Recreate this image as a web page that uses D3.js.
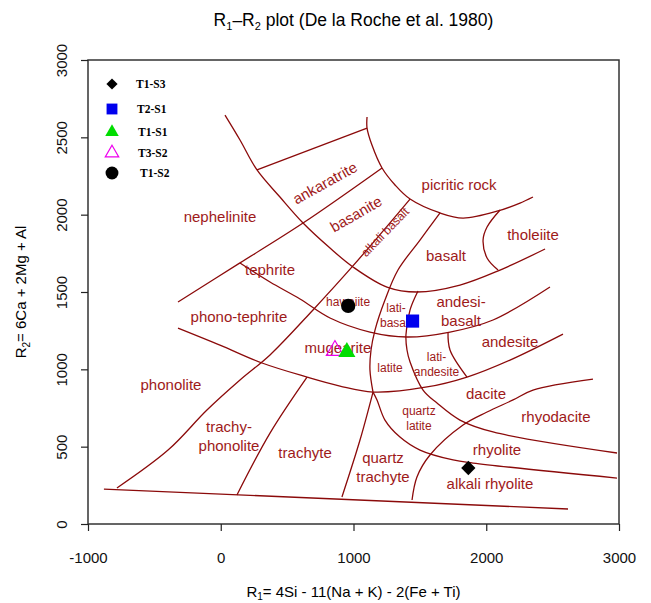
<!DOCTYPE html>
<html>
<head>
<meta charset="utf-8">
<script src="https://cdn.jsdelivr.net/npm/d3@7"></script>
<style>
  body { margin: 0; background: #fff; }
  svg { font-family: "Liberation Sans", Arial, sans-serif; }
  .bound { fill: none; stroke: #8b0a0a; stroke-width: 1.3; }
  .field { fill: #9e1a1a; text-anchor: middle; }
  .tick text { font-size: 15px; fill: #111; }
</style>
</head>
<body>
<div id="chart"></div>
<script>
const width = 651
const height = 603
const margin = { top: 60, right: 32, bottom: 79, left: 88 }

// x / y tick values
const xTicks = [-1000, 0, 1000, 2000, 3000]
const yTicks = [0, 500, 1000, 1500, 2000, 2500, 3000]

// field boundaries, [R1, R2]
const baseLine = [[-880, 226], [2616, 97]]
const phonoLine = [[-782, 233], [-397, 478], [-104, 737], [145, 931], [371, 1093], [695, 1384], [989, 1662], [1426, 2101]]
const trachyPhonoLine = [[122, 188], [371, 588], [650, 950]]
const trachyteLine = [[913, 175], [1049, 543], [1147, 853]]
const rhyodaciteLine = [[1441, 155], [1478, 304], [1576, 446], [1825, 640], [2006, 724], [2202, 802], [2352, 866], [2804, 937]]
const rhyoliteLine = [[1147, 853], [1177, 802], [1237, 672], [1350, 562], [1501, 478], [1750, 414], [1900, 394], [2985, 297]]
const daciteLine = [[1486, 1506], [1426, 1384], [1395, 1222], [1403, 1125], [1426, 1047], [1524, 866], [1629, 782], [1802, 672], [2051, 595], [2985, 459]]
const latiteLine = [[1652, 2011], [1501, 1836], [1335, 1642], [1237, 1448], [1162, 1254], [1132, 1125], [1124, 996], [1147, 853]]
const basaltLine = [[32, 2644], [145, 2483], [273, 2289], [446, 2114], [620, 1946], [823, 1784], [996, 1662], [1252, 1532], [1478, 1500], [1802, 1545], [2104, 1642], [2443, 1778]]
const ankaraLine = [[273, 2289], [1102, 2560]]
const picriteLine = [[1102, 2631], [1102, 2560], [1139, 2450], [1215, 2302], [1313, 2192], [1426, 2101], [1652, 2011], [1825, 1978], [2089, 2024], [2254, 2075], [2352, 2114]]
const tholeiiteLine = [[2104, 2030], [2006, 1920], [1976, 1836], [2006, 1720], [2089, 1642]]
const tephriteLine = [[-322, 1435], [145, 1688], [620, 1946], [1215, 2302]]
const hawaiiteLine = [[145, 1688], [371, 1565], [597, 1455], [823, 1332], [1124, 1241], [1403, 1209], [1727, 1241], [2051, 1319], [2480, 1532]]
const mugeariteLine = [[-322, 1267], [-6, 1157], [311, 1041], [650, 950], [898, 892], [1147, 853], [1554, 886], [1855, 950], [2179, 1060], [2578, 1228]]
const andesiteLine = [[1712, 1241], [1727, 1125], [1855, 950]]

const boundaries = [baseLine, phonoLine, trachyPhonoLine, trachyteLine, rhyodaciteLine, rhyoliteLine,
  daciteLine, latiteLine, basaltLine, ankaraLine, picriteLine, tholeiiteLine, tephriteLine,
  hawaiiteLine, mugeariteLine, andesiteLine]

// field names: text lines, position, font size, rotation
const fieldNames = [
  ['nephelinite'], ['ankaratrite'], ['basanite'], ['alkali basalt'], ['picritic rock'], ['tholeiite'],
  ['basalt'], ['tephrite'], ['hawaiite'], ['lati-', 'basalt'], ['andesi-', 'basalt'], ['phono-tephrite'],
  ['mugearite'], ['andesite'], ['latite'], ['lati-', 'andesite'], ['dacite'], ['rhyodacite'],
  ['quartz', 'latite'], ['phonolite'], ['trachy-', 'phonolite'], ['trachyte'], ['quartz', 'trachyte'],
  ['rhyolite'], ['alkali rhyolite']
]
const fieldX = [-6, 785, 1019, 1237, 1795, 2352, 1697, 371, 959, 1320, 1810, 137, 883, 2179, 1275, 1625, 1998, 2525, 1493, -375, 62, 635, 1222, 2081, 2028]
const fieldY = [1985, 2205, 2004, 1888, 2192, 1869, 1733, 1642, 1435, 1350, 1377, 1338, 1138, 1177, 1009, 1032, 841, 692, 686, 899, 569, 459, 365, 478, 259]
const fieldSize = [15, 15, 15, 12, 15, 15, 15, 15, 12, 12, 15, 15, 15, 15, 12, 12, 15, 15, 12, 15, 15, 15, 15, 15, 15]
const fieldRot = [0, -29, -30, -46, 0, 0, 0, 0, 0, 0, 0, 0, 0, 0, 0, 0, 0, 0, 0, 0, 0, 0, 0, 0, 0]

// samples
const sampleNames = ['T1-S3', 'T2-S1', 'T1-S1', 'T3-S2', 'T1-S2']
const sampleR1 = [1865, 1445, 950, 860, 960]
const sampleR2 = [362, 1312, 1112, 1122, 1410]
const sampleShape = [d3.symbolDiamond2, d3.symbolSquare2, d3.symbolTriangle2, d3.symbolTriangle2, d3.symbolCircle]
const sampleFill = ['#000', '#0000ee', '#00dd00', 'none', '#000']
const sampleStroke = ['none', 'none', 'none', '#ee00ee', 'none']
const drawOrder = [0, 1, 3, 2, 4]

const x = d3.scaleLinear().domain([-1000, 3000]).range([margin.left, width - margin.right])
const y = d3.scaleLinear().domain([0, 3000]).range([height - margin.bottom, margin.top])

const tickFmt = d => String(d)

const svg = d3.select('#chart').append('svg')
    .attr('width', width)
    .attr('height', height)

// title
const title = svg.append('text')
    .attr('x', (margin.left + width - margin.right) / 2)
    .attr('y', 26)
    .attr('text-anchor', 'middle')
    .style('font-size', '17.5px')
title.append('tspan').text('R')
title.append('tspan').attr('dy', 4).style('font-size', '11px').text('1')
title.append('tspan').attr('dy', -4).text('\u2013R')
title.append('tspan').attr('dy', 4).style('font-size', '11px').text('2')
title.append('tspan').attr('dy', -4).text(' plot (De la Roche et al. 1980)')

// frame
svg.append('rect')
    .attr('x', x(-1000)).attr('y', y(3000))
    .attr('width', x(3000) - x(-1000)).attr('height', y(0) - y(3000))
    .attr('fill', 'none').attr('stroke', '#333').attr('stroke-width', 1.5)

svg.append('g')
    .attr('transform', `translate(0,${y(0)})`)
    .call(d3.axisBottom(x).tickValues(xTicks).tickSize(7).tickPadding(21).tickFormat(tickFmt))
    .call(g => g.select('.domain').remove())
    .call(g => g.selectAll('.tick line').attr('stroke', '#222').attr('stroke-width', 1.2))

svg.append('g')
    .attr('transform', `translate(${x(-1000)},0)`)
    .call(d3.axisLeft(y).tickValues(yTicks).tickSize(7).tickFormat(tickFmt))
    .call(g => g.select('.domain').remove())
    .call(g => g.selectAll('.tick line').attr('stroke', '#222').attr('stroke-width', 1.2))
    .call(g => g.selectAll('.tick text')
        .attr('x', 0)
        .attr('text-anchor', 'middle')
        .attr('transform', 'translate(-26,0) rotate(-90)')
        .attr('dy', '0.35em'))

// axis titles
const xt = svg.append('text')
    .attr('x', (margin.left + width - margin.right) / 2)
    .attr('y', 597)
    .attr('text-anchor', 'middle')
    .style('font-size', '15px')
xt.append('tspan').text('R')
xt.append('tspan').attr('dy', 3).style('font-size', '10px').text('1')
xt.append('tspan').attr('dy', -3).text('= 4Si - 11(Na + K) - 2(Fe + Ti)')

const yt = svg.append('text')
    .attr('transform', `translate(26,${(y(0) + y(3000)) / 2}) rotate(-90)`)
    .attr('text-anchor', 'middle')
    .style('font-size', '15px')
yt.append('tspan').text('R')
yt.append('tspan').attr('dy', 4).style('font-size', '10px').text('2')
yt.append('tspan').attr('dy', -4).text('= 6Ca + 2Mg + Al')

// boundaries
const line = d3.line()
    .curve(d3.curveCatmullRom.alpha(0.5))
    .x(d => x(d[0]))
    .y(d => y(d[1]))

svg.append('g')
    .selectAll('path')
    .data(boundaries)
    .join('path')
    .attr('class', 'bound')
    .attr('d', line)

// field names
const names = svg.append('g')
    .selectAll('text')
    .data(fieldNames)
    .join('text')
    .attr('class', 'field')
    .attr('transform', (d, i) => `translate(${x(fieldX[i])},${y(fieldY[i])}) rotate(${fieldRot[i]})`)
    .style('font-size', (d, i) => fieldSize[i] + 'px')

names.selectAll('tspan')
    .data((d, i) => d.map((t, j) => ({ t, j, n: d.length, s: fieldSize[i] })))
    .join('tspan')
    .attr('x', 0)
    .attr('y', d => (d.j - (d.n - 1) / 2) * d.s * 1.25)
    .attr('dy', '0.35em')
    .text(d => d.t)

// samples
const symSize = [130, 220, 210, 210, 160]
svg.append('g')
    .selectAll('path')
    .data(drawOrder)
    .join('path')
    .attr('transform', i => `translate(${x(sampleR1[i])},${y(sampleR2[i])})`)
    .attr('d', i => d3.symbol(sampleShape[i], symSize[i])())
    .attr('fill', i => sampleFill[i])
    .attr('stroke', i => sampleStroke[i])
    .attr('stroke-width', 1.2)

// legend
const legendY = [84, 109, 132, 153, 173]
const legendSize = [80, 150, 130, 130, 130]
const legend = svg.append('g')
    .selectAll('g')
    .data(sampleNames)
    .join('g')
    .attr('transform', (d, i) => `translate(112,${legendY[i]})`)

legend.append('path')
    .attr('d', (d, i) => d3.symbol(sampleShape[i], legendSize[i])())
    .attr('fill', (d, i) => sampleFill[i])
    .attr('stroke', (d, i) => sampleStroke[i])
    .attr('stroke-width', 1.2)

legend.append('text')
    .attr('x', (d, i) => [24, 25, 26, 26, 28][i])
    .attr('dy', '0.35em')
    .style('font-family', '"Liberation Serif", "Times New Roman", serif')
    .style('font-weight', 'bold')
    .style('font-size', '11.5px')
    .text(d => d)
</script>
</body>
</html>
